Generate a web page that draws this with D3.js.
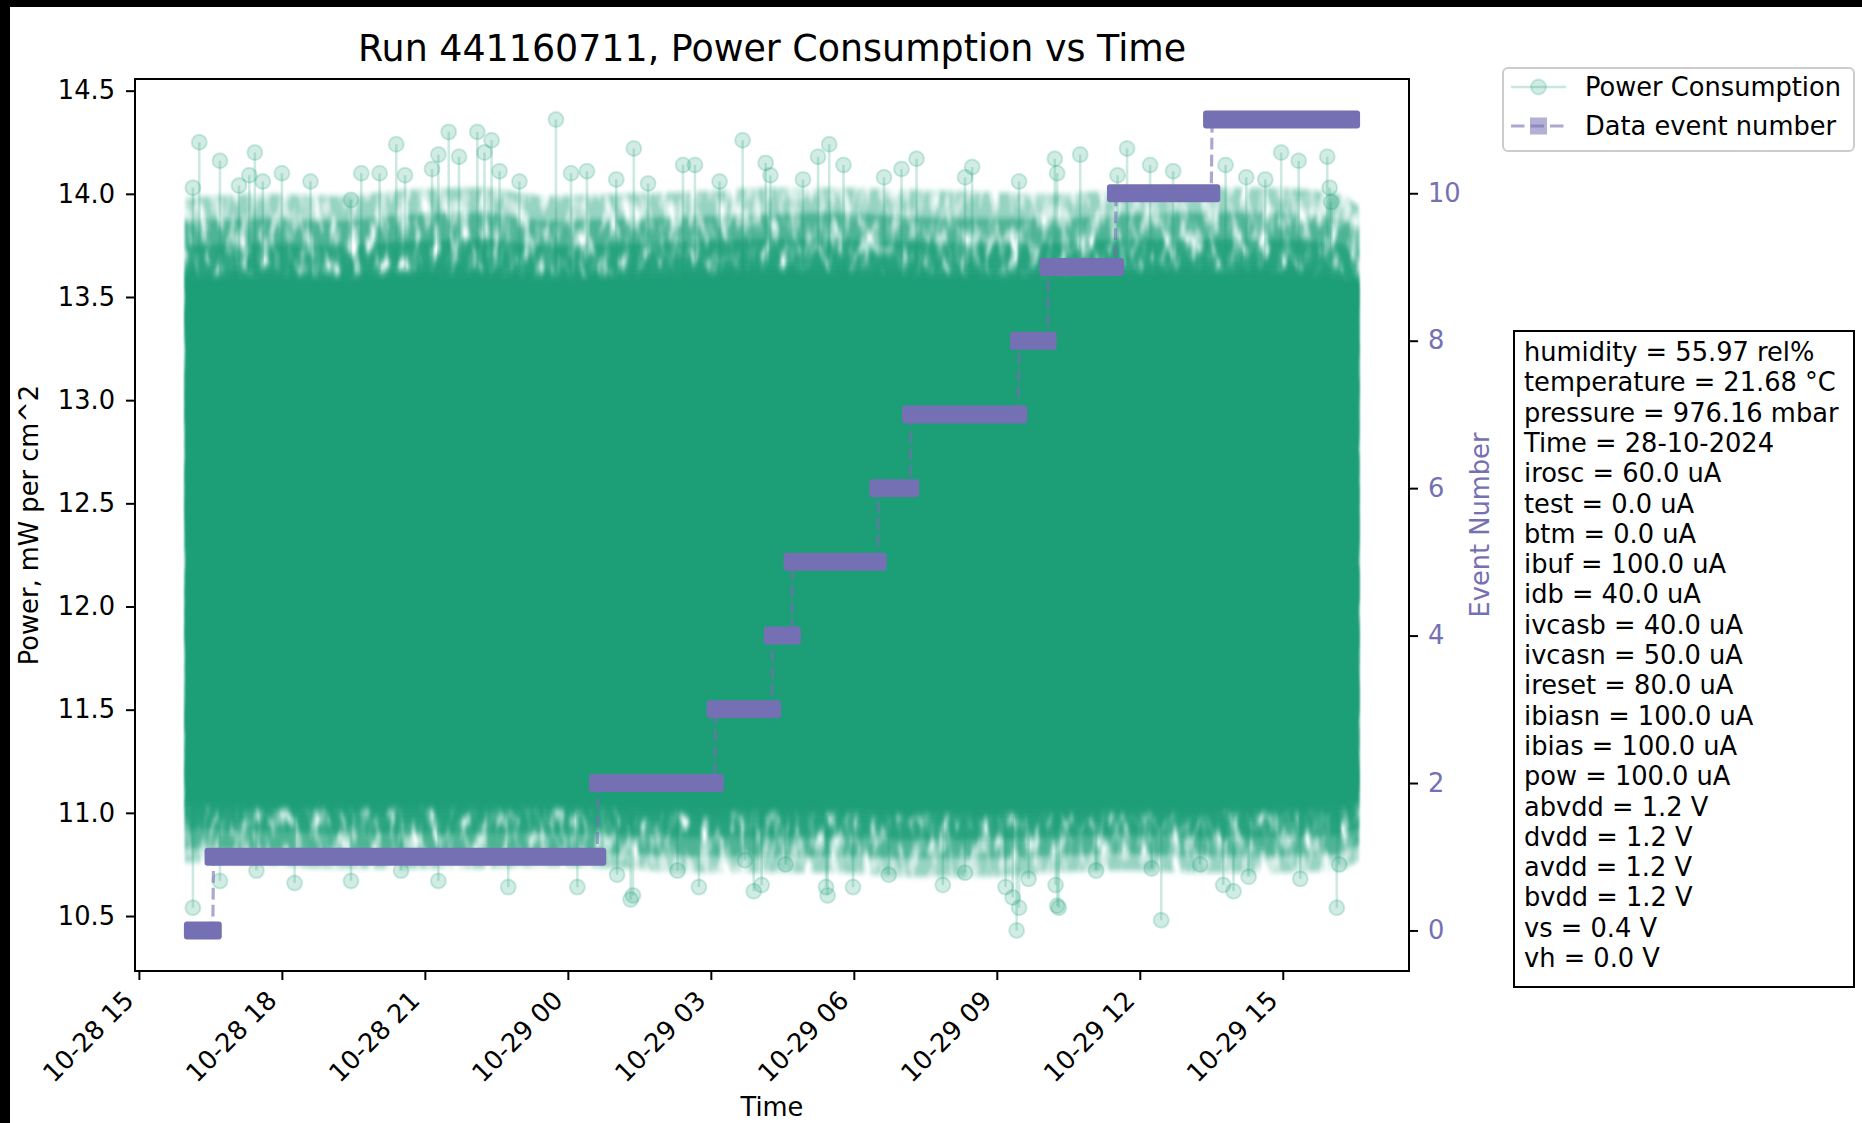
<!DOCTYPE html>
<html>
<head>
<meta charset="utf-8">
<script src="https://cdn.jsdelivr.net/npm/d3@7"></script>
<style>
  html, body { margin: 0; padding: 0; background: #fff; }
  svg { display: block; font-family: "DejaVu Sans", sans-serif; }
</style>
</head>
<body>
<svg id="chart" width="1862" height="1123"></svg>
<script>
// ---------------- data ----------------
const runTitle = "Run 441160711, Power Consumption vs Time";
const sampleStart = "2024-10-28T16:08";
const sampleEnd = "2024-10-29T16:26";

// data event number and the time span each event covers
const eventNumbers = [0, 1, 2, 3, 4, 5, 6, 7, 8, 9, 10, 11];
const eventStart = ["2024-10-28T16:08", "2024-10-28T16:34", "2024-10-29T00:38", "2024-10-29T03:06",
  "2024-10-29T04:18", "2024-10-29T04:43", "2024-10-29T06:31", "2024-10-29T07:12",
  "2024-10-29T09:28", "2024-10-29T10:05", "2024-10-29T11:30", "2024-10-29T13:31"];
const eventEnd = ["2024-10-28T16:33", "2024-10-29T00:37", "2024-10-29T03:05", "2024-10-29T04:17",
  "2024-10-29T04:42", "2024-10-29T06:30", "2024-10-29T07:11", "2024-10-29T09:27",
  "2024-10-29T10:04", "2024-10-29T11:29", "2024-10-29T13:30", "2024-10-29T16:26"];

// power distribution per time bin (minutes after sample start), mW per cm^2
const bandMinutes = [0, 90, 180, 270, 360, 450, 540, 630, 720, 810, 900, 990, 1080, 1170, 1260, 1350, 1440, 1458];
const upperOuter = [13.98, 14.00, 13.99, 14.02, 14.03, 13.99, 14.00, 14.01, 14.03, 14.03, 14.02, 14.01, 14.00, 14.02, 14.03, 14.03, 14.00, 13.94];
const upperMid   = [13.87, 13.88, 13.87, 13.90, 13.91, 13.87, 13.88, 13.89, 13.90, 13.91, 13.89, 13.88, 13.88, 13.90, 13.91, 13.91, 13.88, 13.84];
const upperInner = [13.75, 13.76, 13.75, 13.77, 13.78, 13.75, 13.76, 13.77, 13.78, 13.78, 13.77, 13.76, 13.76, 13.78, 13.78, 13.78, 13.76, 13.72];
const upperCore  = [13.61, 13.62, 13.61, 13.63, 13.63, 13.61, 13.62, 13.63, 13.64, 13.64, 13.63, 13.62, 13.62, 13.64, 13.64, 13.64, 13.62, 13.59];
const lowerCore  = [11.02, 11.01, 11.01, 11.01, 11.01, 11.01, 11.00, 10.99, 10.99, 10.99, 10.98, 10.98, 10.99, 10.99, 10.99, 10.99, 11.00, 11.03];
const lowerInner = [10.92, 10.91, 10.90, 10.90, 10.90, 10.90, 10.89, 10.88, 10.88, 10.88, 10.87, 10.87, 10.88, 10.89, 10.88, 10.88, 10.89, 10.93];
const lowerMid   = [10.83, 10.82, 10.81, 10.81, 10.81, 10.81, 10.80, 10.79, 10.79, 10.79, 10.78, 10.78, 10.79, 10.80, 10.79, 10.79, 10.80, 10.85];
const lowerOuter = [10.76, 10.75, 10.73, 10.73, 10.73, 10.74, 10.73, 10.71, 10.71, 10.71, 10.69, 10.69, 10.71, 10.72, 10.71, 10.71, 10.72, 10.77];

// isolated samples outside the bulk (minutes after sample start, power)
const highMinutes = [8, 34, 78, 0, 58, 71, 88, 112, 148, 212, 235, 256, 267, 199, 301, 309, 322, 335, 358, 367,
  376, 386, 411, 457, 476, 496, 533, 555, 573, 617, 632, 663, 692, 721, 727, 768, 787, 801, 819, 870,
  892, 911, 981, 972, 1040, 1085, 1088, 1117, 1176, 1164, 1205, 1234, 1300, 1370, 1392, 1428, 1326, 1350, 1431, 1433];
const highPower = [14.25, 14.16, 14.20, 14.03, 14.04, 14.09, 14.06, 14.10, 14.06, 14.10, 14.10, 14.24, 14.09, 13.97, 14.12, 14.19, 14.30, 14.18, 14.30, 14.20,
  14.26, 14.11, 14.06, 14.36, 14.10, 14.11, 14.07, 14.22, 14.05, 14.14, 14.14, 14.06, 14.26, 14.15, 14.09, 14.07, 14.18, 14.24, 14.14, 14.08,
  14.12, 14.17, 14.13, 14.08, 14.06, 14.17, 14.10, 14.19, 14.22, 14.09, 14.14, 14.11, 14.14, 14.20, 14.16, 14.18, 14.08, 14.07, 14.03, 13.96];
const lowMinutes = [0, 34, 80, 128, 199, 262, 309, 397, 484, 534, 551, 554, 610, 637, 706, 716, 695, 746, 797, 799,
  831, 876, 944, 972, 1023, 1032, 1040, 1037, 1052, 1088, 1090, 1086, 1137, 1219, 1207, 1268, 1297, 1310, 1329, 1394, 1440, 1443];
const lowPower = [10.54, 10.67, 10.72, 10.66, 10.67, 10.72, 10.67, 10.64, 10.64, 10.70, 10.58, 10.60, 10.72, 10.64, 10.62, 10.65, 10.77, 10.75, 10.64, 10.60,
  10.64, 10.70, 10.65, 10.71, 10.64, 10.59, 10.54, 10.43, 10.68, 10.55, 10.54, 10.65, 10.72, 10.48, 10.73, 10.75, 10.65, 10.62, 10.69, 10.68, 10.54, 10.75];

const powerTicks = [10.5, 11.0, 11.5, 12.0, 12.5, 13.0, 13.5, 14.0, 14.5];
const eventTicks = [0, 2, 4, 6, 8, 10];

const conditions = [
  "humidity = 55.97 rel%", "temperature = 21.68 °C", "pressure = 976.16 mbar", "Time = 28-10-2024",
  "irosc = 60.0 uA", "test = 0.0 uA", "btm = 0.0 uA", "ibuf = 100.0 uA", "idb = 40.0 uA",
  "ivcasb = 40.0 uA", "ivcasn = 50.0 uA", "ireset = 80.0 uA", "ibiasn = 100.0 uA", "ibias = 100.0 uA",
  "pow = 100.0 uA", "abvdd = 1.2 V", "dvdd = 1.2 V", "avdd = 1.2 V", "bvdd = 1.2 V", "vs = 0.4 V", "vh = 0.0 V"
];

// ---------------- drawing ----------------
const GREEN = "#1b9e77", PURPLE = "#7570b3";
const FS = 25.7;
const W = 1862, H = 1123;
const P = { left: 135, right: 1409, top: 79, bottom: 971 };

const svg = d3.select("#chart");
svg.append("rect").attr("width", W).attr("height", H).attr("fill", "#fff");

const defs = svg.append("defs");
defs.append("filter").attr("id", "soft")
  .attr("x", "-2%").attr("y", "-30%").attr("width", "104%").attr("height", "160%")
  .append("feGaussianBlur").attr("stdDeviation", "1 5");

// mottled edge for the sparse part of the sample cloud
const mottle = defs.append("filter").attr("id", "mottle")
  .attr("x", "-2%").attr("y", "-30%").attr("width", "104%").attr("height", "160%");
mottle.append("feTurbulence").attr("type", "fractalNoise").attr("baseFrequency", "0.1 0.035")
  .attr("numOctaves", 2).attr("seed", 7).attr("result", "noise");
mottle.append("feColorMatrix").attr("in", "noise").attr("type", "matrix")
  .attr("values", "0 0 0 0 0  0 0 0 0 0  0 0 0 0 0  2.6 0 0 0 -0.55").attr("result", "mask");
mottle.append("feComposite").attr("in", "SourceGraphic").attr("in2", "mask").attr("operator", "in").attr("result", "cut");
mottle.append("feGaussianBlur").attr("in", "cut").attr("stdDeviation", "1 2.5");

const parse = d3.timeParse("%Y-%m-%dT%H:%M");
const t0 = parse(sampleStart), t1 = parse(sampleEnd);
const span = t1 - t0;
const atMin = m => new Date(+t0 + m * 60000);

const x = d3.scaleTime()
  .domain([new Date(+t0 - 0.05 * span), new Date(+t1 + 0.05 * span)])
  .range([P.left, P.right]);

const pMin = d3.min(lowPower), pMax = d3.max(highPower);
const pPad = 0.05 * (pMax - pMin);
const y = d3.scaleLinear().domain([pMin - pPad, pMax + pPad]).range([P.bottom, P.top]);

const eMin = d3.min(eventNumbers), eMax = d3.max(eventNumbers);
const ePad = 0.05 * (eMax - eMin);
const y2 = d3.scaleLinear().domain([eMin - ePad, eMax + ePad]).range([P.bottom, P.top]);

// ---- power consumption bulk ----
const greenG = svg.append("g");
const band = (hi, lo) => d3.area()
  .x((d, i) => x(atMin(bandMinutes[i])) + (i === 0 ? -8 : i === bandMinutes.length - 1 ? 8 : 0))
  .y0((d, i) => y(lo[i]))
  .y1((d, i) => y(hi[i]))
  .curve(d3.curveMonotoneX)(bandMinutes);

const layers = [
  { hi: upperOuter, lo: lowerOuter, a: 0.45, f: "mottle" },
  { hi: upperMid, lo: lowerMid, a: 0.6, f: "mottle" },
  { hi: upperInner, lo: lowerInner, a: 0.75, f: "mottle" },
  { hi: upperCore, lo: lowerCore, a: 1, f: "soft" }
];
layers.forEach(l => {
  greenG.append("path").attr("d", band(l.hi, l.lo))
    .attr("fill", GREEN).attr("fill-opacity", l.a).attr("filter", `url(#${l.f})`);
});

// outlying samples with the trace segments joining them to the bulk
const interp = (arr, m) => {
  const i = Math.max(1, d3.bisectLeft(bandMinutes, m));
  const a = bandMinutes[i - 1], b = bandMinutes[i];
  const f = b === a ? 0 : (m - a) / (b - a);
  return arr[i - 1] + f * (arr[i] - arr[i - 1]);
};
const highPts = highMinutes.map((m, i) => ({ m, v: highPower[i], base: interp(upperCore, m) }));
const lowPts = lowMinutes.map((m, i) => ({ m, v: lowPower[i], base: interp(lowerCore, m) }));
const allPts = highPts.concat(lowPts);

greenG.selectAll("line.stem").data(allPts).join("line")
  .attr("class", "stem")
  .attr("x1", d => x(atMin(d.m))).attr("x2", d => x(atMin(d.m)))
  .attr("y1", d => y(d.v)).attr("y2", d => y(d.base))
  .attr("stroke", GREEN).attr("stroke-opacity", 0.22).attr("stroke-width", 2.6);

greenG.selectAll("circle.pt").data(allPts).join("circle")
  .attr("class", "pt")
  .attr("cx", d => x(atMin(d.m))).attr("cy", d => y(d.v)).attr("r", 7.5)
  .attr("fill", GREEN).attr("fill-opacity", 0.2)
  .attr("stroke", GREEN).attr("stroke-opacity", 0.2).attr("stroke-width", 2);

// ---- event number trace ----
const evPts = [];
eventNumbers.forEach((n, i) => {
  evPts.push([parse(eventStart[i]), n]);
  evPts.push([parse(eventEnd[i]), n]);
});
svg.append("path")
  .attr("d", d3.line().x(d => x(d[0])).y(d => y2(d[1]))(evPts))
  .attr("fill", "none").attr("stroke", PURPLE).attr("stroke-opacity", 0.6)
  .attr("stroke-width", 3.2).attr("stroke-dasharray", "11.8,5.1");

const MS = 18;
svg.append("g").selectAll("rect").data(eventNumbers).join("rect")
  .attr("x", (n, i) => x(parse(eventStart[i])) - MS / 2)
  .attr("width", (n, i) => x(parse(eventEnd[i])) - x(parse(eventStart[i])) + MS)
  .attr("y", n => y2(n) - MS / 2).attr("height", MS)
  .attr("rx", 3).attr("fill", PURPLE);

// ---- axes ----
function styleAxis(g) {
  g.select(".domain").remove();
  g.selectAll(".tick line").attr("stroke", "#000").attr("stroke-width", 2);
  g.selectAll(".tick text").attr("font-size", FS).attr("fill", "#000")
    .attr("font-family", "DejaVu Sans, sans-serif");
}

const gx = svg.append("g").attr("transform", `translate(0,${P.bottom})`)
  .call(d3.axisBottom(x).ticks(d3.timeHour.every(3)).tickFormat(d3.timeFormat("%m-%d %H")).tickSize(9).tickSizeOuter(0))
  .call(styleAxis);
gx.selectAll(".tick text")
  .attr("text-anchor", "end").attr("x", 0).attr("y", 0).attr("dy", 0)
  .attr("transform", "translate(-4,31) rotate(-45)");

svg.append("g").attr("transform", `translate(${P.left},0)`)
  .call(d3.axisLeft(y).tickValues(powerTicks).tickFormat(d3.format(".1f")).tickSize(9).tickPadding(11).tickSizeOuter(0))
  .call(styleAxis);

const gr = svg.append("g").attr("transform", `translate(${P.right},0)`)
  .call(d3.axisRight(y2).tickValues(eventTicks).tickFormat(d3.format("d")).tickSize(9).tickPadding(10).tickSizeOuter(0))
  .call(styleAxis);
gr.selectAll(".tick text").attr("fill", PURPLE);

svg.append("rect")
  .attr("x", P.left).attr("y", P.top)
  .attr("width", P.right - P.left).attr("height", P.bottom - P.top)
  .attr("fill", "none").attr("stroke", "#000").attr("stroke-width", 2);

// ---- titles and labels ----
svg.append("text").attr("x", (P.left + P.right) / 2).attr("y", 61)
  .attr("text-anchor", "middle").attr("font-size", 36.4).attr("fill", "#000").text(runTitle);
svg.append("text").attr("x", (P.left + P.right) / 2).attr("y", 1116)
  .attr("text-anchor", "middle").attr("font-size", FS).attr("fill", "#000").text("Time");
svg.append("text").attr("transform", `translate(38,${(P.top + P.bottom) / 2}) rotate(-90)`)
  .attr("text-anchor", "middle").attr("font-size", FS).attr("fill", "#000").text("Power, mW per cm^2");
svg.append("text").attr("transform", `translate(1489,${(P.top + P.bottom) / 2}) rotate(-90)`)
  .attr("text-anchor", "middle").attr("font-size", FS).attr("fill", PURPLE).text("Event Number");

// ---- legend ----
const lg = svg.append("g");
lg.append("rect").attr("x", 1503).attr("y", 68).attr("width", 351).attr("height", 83).attr("rx", 5)
  .attr("fill", "#fff").attr("fill-opacity", 0.8).attr("stroke", "#cccccc").attr("stroke-width", 2);
lg.append("line").attr("x1", 1511).attr("x2", 1566).attr("y1", 87).attr("y2", 87)
  .attr("stroke", GREEN).attr("stroke-opacity", 0.25).attr("stroke-width", 2.6);
lg.append("circle").attr("cx", 1538.5).attr("cy", 87).attr("r", 7.5)
  .attr("fill", GREEN).attr("fill-opacity", 0.2).attr("stroke", GREEN).attr("stroke-opacity", 0.2).attr("stroke-width", 2);
lg.append("line").attr("x1", 1511).attr("x2", 1566).attr("y1", 126).attr("y2", 126)
  .attr("stroke", PURPLE).attr("stroke-opacity", 0.6).attr("stroke-width", 3.2).attr("stroke-dasharray", "13.5,6");
lg.append("rect").attr("x", 1530).attr("y", 117.5).attr("width", 17).attr("height", 17)
  .attr("fill", PURPLE).attr("fill-opacity", 0.55);
lg.append("text").attr("x", 1585).attr("y", 96).attr("font-size", FS).attr("fill", "#000").text("Power Consumption");
lg.append("text").attr("x", 1585).attr("y", 135).attr("font-size", FS).attr("fill", "#000").text("Data event number");

// ---- run conditions box ----
svg.append("rect").attr("x", 1514).attr("y", 331).attr("width", 340).attr("height", 656)
  .attr("fill", "#fff").attr("stroke", "#000").attr("stroke-width", 2);
svg.append("g").selectAll("text").data(conditions).join("text")
  .attr("x", 1524).attr("y", (d, i) => 361 + i * 30.3)
  .attr("font-size", FS).attr("fill", "#000").text(d => d);

// ---- frame edges ----
svg.append("rect").attr("x", 0).attr("y", 0).attr("width", W).attr("height", 7).attr("fill", "#000");
svg.append("rect").attr("x", 0).attr("y", 0).attr("width", 10).attr("height", H).attr("fill", "#000");
</script>
</body>
</html>
